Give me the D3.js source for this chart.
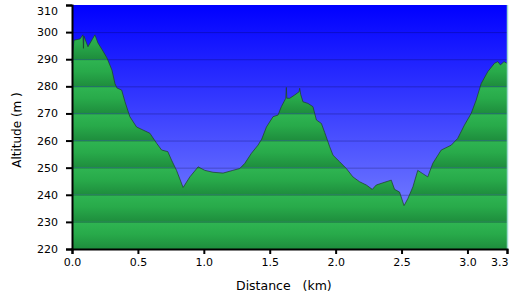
<!DOCTYPE html>
<head>
<meta charset="utf-8">
<title>Altitude profile</title>
<script src="https://d3js.org/d3.v7.min.js"></script>
<style>
  body { margin: 0; background: #fff; }
  text { font-family: "DejaVu Sans", Verdana, sans-serif; }
</style>
</head>
<body>
<div id="container"></div>
<script>

// distance along the track (km) and altitude (m)
const dist = [0.000, 0.015, 0.061, 0.083, 0.087, 0.091, 0.121, 0.174, 0.197, 0.235,
  0.265, 0.303, 0.326, 0.341, 0.377, 0.402, 0.439, 0.490, 0.538, 0.591,
  0.642, 0.680, 0.727, 0.755, 0.793, 0.843, 0.894, 0.957, 1.008, 1.070,
  1.146, 1.220, 1.273, 1.311, 1.361, 1.411, 1.439, 1.475, 1.525, 1.563,
  1.588, 1.622, 1.626, 1.630, 1.652, 1.689, 1.723, 1.727, 1.735, 1.752,
  1.790, 1.828, 1.854, 1.892, 1.917, 1.955, 1.980, 2.030, 2.081, 2.131,
  2.182, 2.233, 2.278, 2.308, 2.358, 2.422, 2.447, 2.485, 2.519, 2.548,
  2.586, 2.623, 2.661, 2.699, 2.737, 2.801, 2.877, 2.926, 2.977, 3.028,
  3.066, 3.104, 3.154, 3.205, 3.230, 3.250, 3.277, 3.300]
const alt = [288.6, 297.0, 297.5, 299.0, 294.0, 298.5, 294.6, 299.0, 296.0, 293.0,
  290.5, 286.0, 281.0, 279.4, 278.6, 274.3, 268.8, 265.0, 263.9, 262.7,
  259.0, 256.5, 255.9, 252.8, 249.0, 242.7, 246.6, 250.3, 249.0, 248.3,
  248.0, 249.0, 249.7, 251.6, 255.3, 258.3, 260.5, 265.0, 268.8, 269.4,
  272.5, 275.6, 279.6, 275.6, 275.6, 276.8, 278.0, 279.3, 277.0, 274.3,
  273.7, 272.5, 267.6, 266.3, 263.0, 257.7, 254.6, 252.2, 249.7, 246.6,
  244.8, 243.6, 242.0, 243.6, 244.4, 245.4, 242.0, 241.0, 236.0, 238.6,
  242.9, 249.0, 247.8, 246.6, 251.6, 256.5, 258.3, 260.8, 265.7, 270.0,
  274.9, 281.0, 285.4, 288.5, 289.1, 287.9, 289.1, 288.5]

const xTicks = [0, 0.5, 1.0, 1.5, 2.0, 2.5, 3.0, 3.3]
const yTicks = [220, 230, 240, 250, 260, 270, 280, 290, 300, 310]
const xTitle = "Distance   (km)"
const yTitle = "Altitude (m )"

const width = 509, height = 301
const margin = {top: 5, right: 2, bottom: 52, left: 72}

const svg = d3.select("#container").append("svg")
    .attr("width", width).attr("height", height)

const x = d3.scaleLinear().domain([0, 3.3]).range([margin.left, width - margin.right])
const y = d3.scaleLinear().domain([220, 310]).range([height - margin.bottom, margin.top])

const defs = svg.append("defs")
const sky = defs.append("linearGradient").attr("id", "sky")
    .attr("x1", 0).attr("y1", 0).attr("x2", 0).attr("y2", 1)
sky.append("stop").attr("offset", "0%").attr("stop-color", "#0000ff")
sky.append("stop").attr("offset", "100%").attr("stop-color", "#8792ff")

const band = defs.append("linearGradient").attr("id", "band")
    .attr("x1", 0).attr("y1", 0).attr("x2", 0).attr("y2", 1)
band.append("stop").attr("offset", "0%").attr("stop-color", "#2fb552")
band.append("stop").attr("offset", "45%").attr("stop-color", "#28aa4a")
band.append("stop").attr("offset", "100%").attr("stop-color", "#1e8d3d")

const pts = dist.map((d, i) => [d, alt[i]])

const area = d3.area().x(d => x(d[0])).y0(y(220)).y1(d => y(d[1]))
const line = d3.line().x(d => x(d[0])).y(d => y(d[1]))

defs.append("clipPath").attr("id", "ground")
  .append("path").attr("d", area(pts))

// sky
svg.append("rect")
    .attr("x", x(0)).attr("y", y(310))
    .attr("width", x(3.3) - x(0)).attr("height", y(220) - y(310))
    .attr("fill", "url(#sky)")

// ground, shaded in bands between grid lines
svg.append("g").attr("clip-path", "url(#ground)")
  .selectAll("rect").data(yTicks.slice(1))
  .join("rect")
    .attr("x", x(0)).attr("y", d => y(d))
    .attr("width", x(3.3) - x(0)).attr("height", d => y(d - 10) - y(d))
    .attr("fill", "url(#band)")

// grid lines
svg.append("g")
  .selectAll("line").data(yTicks.slice(1, -1))
  .join("line")
    .attr("x1", x(0)).attr("x2", x(3.3))
    .attr("y1", d => y(d) + 0.5).attr("y2", d => y(d) + 0.5)
    .attr("stroke", "#000030").attr("stroke-opacity", 0.25)

svg.append("path")
    .attr("d", line(pts))
    .attr("fill", "none")
    .attr("stroke", "#1e3d28").attr("stroke-opacity", 0.7)
    .attr("stroke-width", 1)

// right edge
svg.append("line")
    .attr("x1", x(3.3) + 0.5).attr("x2", x(3.3) + 0.5)
    .attr("y1", y(310)).attr("y2", y(220))
    .attr("stroke", "#9fd9cf").attr("stroke-width", 1.5)

// axes
const yAxis = svg.append("g")
    .attr("transform", `translate(${margin.left},0)`)
    .call(d3.axisLeft(y).tickValues(yTicks).tickSize(6).tickPadding(8)
      .tickFormat(d3.format("d")))
yAxis.select(".domain").attr("stroke-width", 2)
yAxis.selectAll(".tick line").attr("stroke-width", 2)
yAxis.selectAll(".tick text").attr("font-size", 11).attr("fill", "#000")
  .attr("font-family", "DejaVu Sans")
yAxis.selectAll(".tick").filter(d => d === 310).select("text").attr("dy", "0.85em")

const xAxis = svg.append("g")
    .attr("transform", `translate(0,${y(220)})`)
    .call(d3.axisBottom(x).tickValues(xTicks).tickSize(5).tickPadding(4)
      .tickFormat(d3.format(".1f")))
xAxis.select(".domain").attr("stroke-width", 2)
xAxis.selectAll(".tick line").attr("stroke-width", 2)
xAxis.selectAll(".tick text").attr("font-size", 11).attr("fill", "#000")
  .attr("font-family", "DejaVu Sans")
xAxis.selectAll(".tick").filter(d => d === 3.3).select("text").attr("text-anchor", "end").attr("dx", 1)

svg.append("text")
    .attr("x", 236).attr("y", 290)
    .attr("font-size", 12.5).style("white-space", "pre")
    .text(xTitle)

svg.append("text")
    .attr("transform", "translate(21,130) rotate(-90)")
    .attr("text-anchor", "middle")
    .attr("font-size", 12).style("white-space", "pre")
    .text(yTitle)

</script>
</body>
